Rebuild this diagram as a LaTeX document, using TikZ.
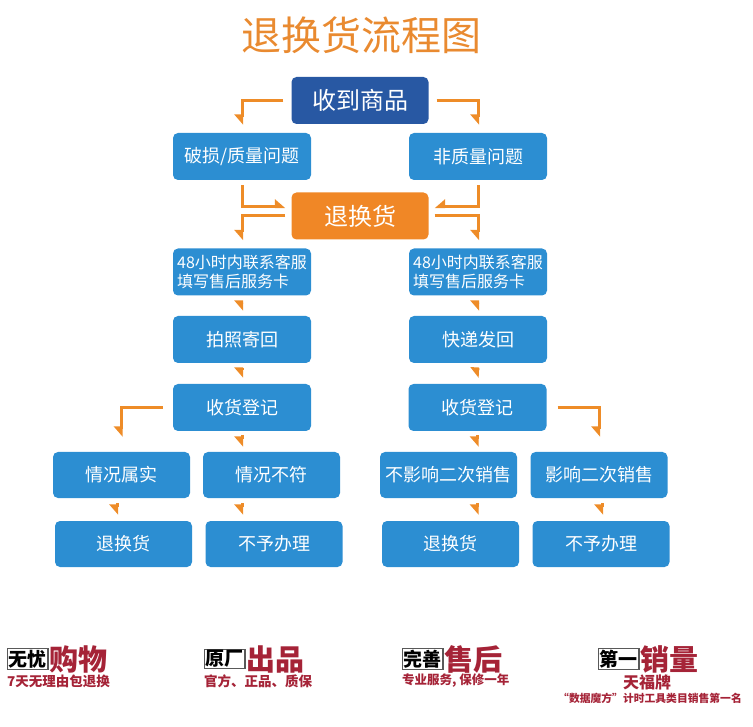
\documentclass[tikz,border=0pt]{standalone}
\usepackage{fontspec}
\setmainfont{Noto Sans CJK SC}
\usetikzlibrary{arrows.meta,calc}
\definecolor{boxblue}{RGB}{44,142,210}
\definecolor{topblue}{RGB}{40,88,163}
\definecolor{boxorange}{RGB}{240,135,38}
\definecolor{lineorange}{RGB}{238,140,40}
\definecolor{titleorange}{RGB}{233,138,48}
\definecolor{logored}{RGB}{165,35,55}
\begin{document}
\begin{tikzpicture}[x=1pt,y=-1pt,
  box/.style={fill=boxblue, rounded corners=5pt, minimum width=138pt, minimum height=47pt,
    text=white, inner sep=0pt, font=\fontsize{18}{20}\selectfont},
  bigbox/.style={box, minimum width=137pt, font=\fontsize{24}{26}\selectfont},
  twoline/.style={box, align=left, font=\fontsize{16}{19.5}\selectfont},
  conn/.style={draw=lineorange, line width=3pt},
  dn/.style={conn, -{Triangle[harpoon,swap,length=9pt,width=15pt]}},
  rtarr/.style={conn, -{Triangle[harpoon,length=9pt,width=15pt]}},
  ltarr/.style={conn, -{Triangle[harpoon,swap,length=9pt,width=15pt]}},
  logobox/.style={draw=black!65, line width=1.2pt, fill=white, text=black, inner sep=1.2pt,
    font=\bfseries\fontsize{19}{19}\selectfont},
  logobig/.style={text=logored, inner sep=0pt, font=\bfseries\fontsize{29}{29}\selectfont},
  logosub/.style={text=logored, inner sep=0pt, font=\bfseries\fontsize{13.5}{14}\selectfont}]
\useasboundingbox (0,0) rectangle (753,727);

% title
\node[text=titleorange, font=\fontsize{40}{42}\selectfont] (title) at (361,35) {退换货流程图};

% flow nodes
\node[bigbox, fill=topblue] (recv) at (360,100.5) {收到商品};
\node[box] (q1) at (242,156.5) {破损/质量问题};
\node[box] (q2) at (478,156.5) {非质量问题};
\node[bigbox, fill=boxorange] (ret) at (360,216) {退换货};
\node[twoline] (c1) at (242,272) {48小时内联系客服\\填写售后服务卡};
\node[twoline] (c2) at (478,272) {48小时内联系客服\\填写售后服务卡};
\node[box] (p1) at (242,339.5) {拍照寄回};
\node[box] (p2) at (478,339.5) {快递发回};
\node[box] (r1) at (242,407.5) {收货登记};
\node[box] (r2) at (477.5,407.5) {收货登记};
\node[box, minimum width=137pt, minimum height=46pt] (s1) at (121.5,475) {情况属实};
\node[box, minimum width=137pt, minimum height=46pt] (s2) at (271.5,475) {情况不符};
\node[box, minimum width=137pt, minimum height=46pt] (s3) at (448.5,475) {不影响二次销售};
\node[box, minimum width=137pt, minimum height=46pt] (s4) at (599,475) {影响二次销售};
\node[box, minimum width=137pt, minimum height=46pt] (t1) at (123.5,544) {退换货};
\node[box, minimum width=137pt, minimum height=46pt] (t2) at (274,544) {不予办理};
\node[box, minimum width=137pt, minimum height=46pt] (t3) at (450.5,544) {退换货};
\node[box, minimum width=137pt, minimum height=46pt] (t4) at (601,544) {不予办理};

% connectors
\draw[dn] ([xshift=-8pt]recv.west) -| ([yshift=8pt]q1.north);
\draw[dn] ([xshift=8pt]recv.east) -| ([yshift=8pt]q2.north);
\draw[rtarr] ([yshift=-5pt]q1.south) |- ([xshift=-6pt,yshift=9pt]ret.west);
\draw[ltarr] ([yshift=-5pt]q2.south) |- ([xshift=6pt,yshift=9pt]ret.east);
\draw[dn] ([xshift=-6pt]ret.west) -| ([yshift=8pt]c1.north);
\draw[dn] ([xshift=6pt]ret.east) -| ([yshift=8pt]c2.north);
\draw[dn] ([yshift=-7pt]c1.south) -- ([yshift=5pt]p1.north);
\draw[dn] ([yshift=-7pt]c2.south) -- ([yshift=5pt]p2.north);
\draw[dn] ([yshift=-5pt]p1.south) -- ([yshift=6pt]r1.north);
\draw[dn] ([yshift=-5pt]p2.south) -- ([yshift=6pt]r2.north);
\draw[dn] ([xshift=-10pt]r1.west) -| ([yshift=15pt]s1.north);
\draw[dn] ($(r1.south)+(0,4)$) -- ($(r1.south |- s2.north)+(0,-5)$);
\draw[dn] ($(r2.south)+(0,4)$) -- ($(r2.south |- s3.north)+(0,-5)$);
\draw[dn] ([xshift=11pt]r2.east) -| ([yshift=15pt]s4.north);
\draw[dn] ($(s1.south)+(-4.5,5)$) -- ($(s1.south |- t1.north)+(-4.5,-6)$);
\draw[dn] ($(s2.south -| r1.south)+(0,5)$) -- ($(t2.north -| r1.south)+(0,-6)$);
\draw[dn] ($(s3.south -| r2.south)+(0,5)$) -- ($(t3.north -| r2.south)+(0,-6)$);
\draw[dn] ($(s4.south)+(3,5)$) -- ($(s4.south |- t4.north)+(3,-6)$);

% bottom logos
\node[logobox, anchor=west] (b1) at (7,659) {无忧};
\node[logobig, anchor=west] (g1) at ([xshift=1pt]b1.east) {购物};
\node[logosub, anchor=west] (u1) at (7,681) {7天无理由包退换};

\node[logobox, anchor=west] (b2) at (204,659) {原厂};
\node[logobig, anchor=west] (g2) at ([xshift=1pt]b2.east) {出品};
\node[logosub, anchor=west] (u2) at (204,681) {官方、正品、质保};

\node[logobox, anchor=west] (b3) at (402,659) {完善};
\node[logobig, anchor=west] (g3) at ([xshift=1pt]b3.east) {售后};
\node[logosub, anchor=west, font=\bfseries\fontsize{12.5}{13}\selectfont] (u3) at (402,681) {专业服务, 保修一年};

\node[logobox, anchor=west] (b4) at (598,659) {第一};
\node[logobig, anchor=west] (g4) at ([xshift=1pt]b4.east) {销量};
\node[logosub, font=\bfseries\fontsize{16}{16}\selectfont] (u4) at (647,682) {天福牌};
\node[logosub, font=\bfseries\fontsize{10.8}{11}\selectfont] (v4) at (650,698) {“数据魔方”计时工具类目销售第一名};
\end{tikzpicture}
\end{document}
